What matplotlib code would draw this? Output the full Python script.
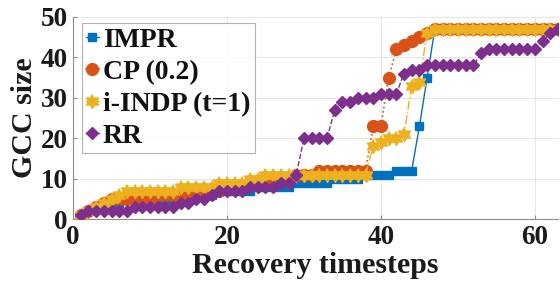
import numpy as np
import matplotlib
matplotlib.use("Agg")
import matplotlib.pyplot as plt

# ---- data ----
steps = list(range(1, 64))
impr = [1, 2, 3, 3, 4, 4, 5, 5, 5, 5, 5, 5, 5, 6, 6, 6, 6, 6, 7, 7,
        7, 7, 7, 8, 8, 8, 8, 8, 9, 9, 9, 9, 9, 10, 10, 10, 10, 11, 11, 11,
        11, 12, 12, 12, 23, 35] + [47] * 17
cp = [1, 2, 3, 4, 5, 5, 5, 5, 5, 5, 6, 6, 6, 6, 6, 7, 7, 7, 7, 8,
      8, 8, 9, 9, 10, 10, 10, 10, 11, 11, 11, 12, 12, 12, 12, 12, 12, 12, 23, 23,
      35, 42, 43, 44, 45, 46] + [47] * 17
indp = [1, 2, 3, 4, 5, 6, 7, 7, 7, 7, 7, 7, 7, 8, 8, 8, 8, 8, 9, 9,
        9, 9, 10, 10, 11, 11, 11, 11, 11, 11, 11, 11, 11, 11, 11, 11, 11, 11, 18, 19,
        20, 20, 21, 33, 34, 46] + [47] * 17
rr = [1, 2, 2, 2, 2, 2, 2, 3, 3, 3, 3, 3, 3, 4, 4, 5, 5, 6, 7, 7,
      7, 7, 8, 8, 8, 8, 9, 9, 11, 20, 20, 20, 20, 27, 29, 29, 30, 30, 30, 31,
      31, 31, 36, 37, 37, 38, 38, 38, 38, 38, 38, 38, 41, 42, 42, 42, 42, 42, 42, 42,
      44, 46, 47]
labels = ["IMPR", "CP (0.2)", "i-INDP (t=1)", "RR"]
xticks = [0, 20, 40, 60]
yticks = [0, 10, 20, 30, 40, 50]

# hexagram marker
ang = np.deg2rad(90 + 30 * np.arange(12))
rad = np.where(np.arange(12) % 2 == 0, 1.0, 0.58)
hexagram = list(zip(rad * np.cos(ang), rad * np.sin(ang)))

plt.rcParams['font.family'] = ['Liberation Serif', 'DejaVu Serif']
plt.rcParams['font.weight'] = 'bold'

fig = plt.figure(figsize=(5.6, 2.95), dpi=100)
ax = fig.add_axes([0.1304, 0.2576, 0.8660, 0.6848])

ax.plot(steps, impr, '-', color='#0072BD', marker='s', ms=6, mec='#0072BD',
        lw=1.0, label=labels[0], zorder=3)
ax.plot(steps, cp, ':', color='#D95319', marker='o', ms=8.5, mec='#D95319',
        lw=1.2, label=labels[1], zorder=4)
ax.plot(steps, indp, '-.', color='#EDB120', marker=hexagram, ms=10, mec='#EDB120',
        lw=1.0, label=labels[2], zorder=5)
ax.plot(steps, rr, '--', color='#7E2F8E', marker='D', ms=6.4, mec='#7E2F8E',
        lw=1.0, label=labels[3], zorder=6)

ax.set_xlim(0, 63)
ax.set_ylim(0, 50)
ax.set_xticks(xticks)
ax.set_yticks(yticks)
ax.grid(True, color='#e6e6e6', lw=0.7)
ax.set_axisbelow(True)
for s in ['top', 'right']:
    ax.spines[s].set_visible(False)
for s in ['left', 'bottom']:
    ax.spines[s].set_color('#8c8c8c')
    ax.spines[s].set_linewidth(0.8)
ax.tick_params(direction='in', length=3, color='#8c8c8c', labelsize=19.5,
               pad=4)
for lab in ax.get_xticklabels() + ax.get_yticklabels():
    lab.set_fontweight('bold')
    lab.set_color('#1a1a1a')

ax.set_xlabel("Recovery timesteps", fontsize=21.5, fontweight='bold',
              color='#1a1a1a', labelpad=2)
ax.set_ylabel("GCC size", fontsize=21.5, fontweight='bold',
              color='#1a1a1a', labelpad=2)

leg = ax.legend(loc='upper left', bbox_to_anchor=(0.0186, 0.97),
                borderaxespad=0, frameon=True, fancybox=False,
                handlelength=0.45, handletextpad=0.15, labelspacing=0.24,
                borderpad=0.15, prop={'weight': 'bold', 'size': 20})
leg.get_frame().set_edgecolor('#a0a0a0')
leg.get_frame().set_linewidth(0.8)
for h in leg.legend_handles:
    h.set_linestyle('-')
for t in leg.get_texts():
    t.set_color('#111111')

fig.savefig("out.png", dpi=100)
